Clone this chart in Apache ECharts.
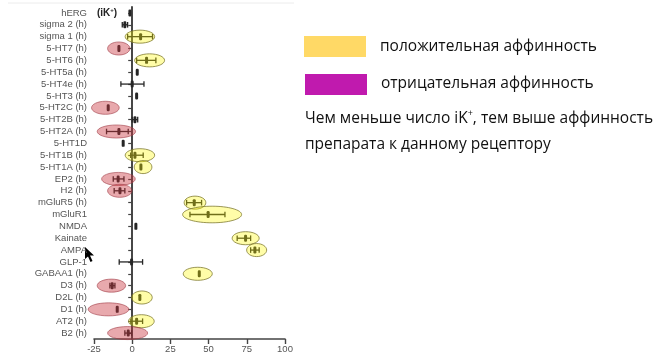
<!DOCTYPE html>
<html>
<head>
<meta charset="utf-8">
<script src="https://cdn.jsdelivr.net/npm/echarts@6/dist/echarts.min.js"></script>
<style>html,body{margin:0;padding:0;background:#fff}#c{width:666px;height:363px}</style>
</head>
<body>
<div id="c"></div>
<script>
const categories = ['hERG','sigma 2 (h)','sigma 1 (h)','5-HT7 (h)','5-HT6 (h)','5-HT5a (h)','5-HT4e (h)','5-HT3 (h)','5-HT2C (h)','5-HT2B (h)','5-HT2A (h)','5-HT1D','5-HT1B (h)','5-HT1A (h)','EP2 (h)','H2 (h)','mGluR5 (h)','mGluR1','NMDA','Kainate','AMPA','GLP-1','GABAA1 (h)','D3 (h)','D2L (h)','D1 (h)','AT2 (h)','B2 (h)'];
const means   = [-1.5,-4.8, 5.5,-8.7, 9.4, 3.3, 0.0, 2.9,-15.7, 1.8,-8.7,-5.9, 1.8, 5.7,-9.2,-8.0,40.6,49.7, 2.4,74.2,80.3,-0.4,43.9,-13.1, 5.0,-9.8, 2.9,-2.6];
const errLow  = [-1.5,-6.5,-3.0,-8.7, 2.9, 3.3,-7.4, 2.9,-15.7, 0.0,-16.8,-5.9,-1.0, 5.7,-12.4,-11.8,35.6,37.8, 2.4,68.7,77.5,-8.5,43.9,-14.6, 5.0,-9.8,-0.9,-4.8];
const errHigh = [-1.5,-3.0,13.3,-8.7,15.5, 3.3, 7.7, 2.9,-15.7, 3.6,-2.6,-5.9, 7.2, 5.7,-5.4,-4.8,45.4,60.7, 2.4,77.5,83.1, 6.8,43.9,-11.3, 5.0,-9.8, 6.8,-0.4];
// ellipse highlight: extent on x axis and affinity type ('pos' / 'neg' / null)
const ellipseLow  = [null,null,-4.6,-16.1, 1.6,null,null,null,-26.6,null,-22.9,null,-4.6, 1.3,-20.0,-16.1,34.0,33.0,null,65.4,74.9,null,33.4,-22.9,-0.4,-28.8,-2.4,-16.1];
const ellipseHigh = [null,null,14.7, -1.5,21.2,null,null,null, -8.5,null,  2.2,null,14.7,12.9,  2.0, -0.2,48.2,71.6,null,83.1,88.0,null,52.4, -4.3,13.1, -2.2,14.4,10.1];
const ellipseType = [null,null,'pos','neg','pos',null,null,null,'neg',null,'neg',null,'pos','pos','neg','neg','pos','pos',null,'pos','pos',null,'pos','neg','pos','neg','pos','neg'];
const xTicks = [-25, 0, 25, 50, 75, 100];
const legendLabels = ['положительная аффинность', 'отрицательная аффинность'];
const noteLine1 = ['Чем меньше число iK', '+', ', тем выше аффинность'];
const noteLine2 = 'препарата к данному рецептору';

const errData = categories.map((c, i) => [i, means[i], errLow[i], errHigh[i]]);
const ellData = [];
categories.forEach((c, i) => {
  if (ellipseType[i]) ellData.push([i, ellipseLow[i], ellipseHigh[i], ellipseType[i] === 'pos' ? 1 : 0]);
});

const GRID_LEFT = 94, GRID_W = 191;
const xMin = xTicks[0], xMax = xTicks[xTicks.length - 1];
const zeroOffset = -(0 - xMin) / (xMax - xMin) * GRID_W;

const chart = echarts.init(document.getElementById('c'), null, {renderer: 'canvas'});
const dark = '#262626';
chart.setOption({
  backgroundColor: '#fff',
  animation: false,
  grid: {left: GRID_LEFT, width: GRID_W, top: 7, height: 332},
  xAxis: {
    type: 'value', min: xMin, max: xMax, interval: 25,
    splitLine: {show: false},
    axisLine: {show: true, onZero: false, lineStyle: {color: '#444', width: 1.6}},
    axisTick: {show: true, length: 5, lineStyle: {color: '#444', width: 1.4}},
    axisLabel: {color: '#555', fontFamily: 'Liberation Sans', fontSize: 9.5, margin: 5}
  },
  yAxis: [{
    type: 'category', data: categories, inverse: true, position: 'left',
    axisLine: {show: false, onZero: false}, axisTick: {show: false},
    axisLabel: {color: '#555', fontFamily: 'Liberation Sans', fontSize: 9.5, margin: 7, interval: 0}
  }, {
    type: 'category', data: categories, inverse: true, position: 'left', offset: zeroOffset,
    axisLine: {show: true, onZero: false, lineStyle: {color: '#333', width: 1.8}},
    axisTick: {show: true, inside: false, alignWithLabel: true, interval: 0, length: 4, lineStyle: {color: '#444', width: 1.2}},
    axisLabel: {show: false}
  }],
  series: [{
    type: 'custom', yAxisIndex: 0, data: errData, z: 3,
    encode: {x: [1, 2, 3], y: 0},
    renderItem: function (params, api) {
      const idx = api.value(0);
      const pm = api.coord([api.value(1), idx]);
      const pl = api.coord([api.value(2), idx]);
      const ph = api.coord([api.value(3), idx]);
      const ch = [];
      const st = {stroke: dark, lineWidth: 1.3};
      if (ph[0] - pl[0] > 1) {
        ch.push({type: 'line', shape: {x1: pl[0], y1: pm[1], x2: ph[0], y2: pm[1]}, style: st});
        ch.push({type: 'line', shape: {x1: pl[0], y1: pm[1] - 2.8, x2: pl[0], y2: pm[1] + 2.8}, style: st});
        ch.push({type: 'line', shape: {x1: ph[0], y1: pm[1] - 2.8, x2: ph[0], y2: pm[1] + 2.8}, style: st});
      }
      ch.push({type: 'rect', shape: {x: pm[0] - 1.5, y: pm[1] - 3.5, width: 3, height: 7, r: 1.2}, style: {fill: dark}});
      return {type: 'group', children: ch};
    }
  }, {
    type: 'custom', yAxisIndex: 0, data: ellData, z: 4, clip: false,
    encode: {x: [1, 2], y: 0},
    renderItem: function (params, api) {
      const idx = api.value(0);
      const p1 = api.coord([api.value(1), idx]);
      const p2 = api.coord([api.value(2), idx]);
      const band = api.size([0, 1])[1];
      const pos = api.value(3) === 1;
      const big = categories[idx] === 'mGluR1' ? 1.4 : 1.1;
      return {
        type: 'ellipse',
        shape: {cx: (p1[0] + p2[0]) / 2, cy: p1[1], rx: (p2[0] - p1[0]) / 2, ry: band * big / 2},
        style: pos
          ? {fill: 'rgba(255,250,0,0.34)', stroke: 'rgba(120,115,40,0.75)', lineWidth: 1}
          : {fill: 'rgba(200,50,60,0.42)', stroke: 'rgba(160,60,70,0.6)', lineWidth: 1}
      };
    }
  }],
  graphic: [
    {type: 'line', shape: {x1: 8, y1: 3, x2: 294, y2: 3}, style: {stroke: '#ececec', lineWidth: 1}},
    {type: 'text', x: 97, y: 13, style: {
      text: '{a|(iK}{s|+}{a|)}', verticalAlign: 'middle',
      rich: {a: {fontFamily: 'Liberation Sans', fontWeight: 'bold', fontSize: 10, fill: '#222', lineHeight: 12},
             s: {fontFamily: 'Liberation Sans', fontWeight: 'bold', fontSize: 6, fill: '#222', verticalAlign: 'top', lineHeight: 12}}
    }},
    {type: 'polygon', shape: {points: [[85, 247], [85, 259], [88, 256.5], [90.5, 262], [92.5, 261], [90, 255.5], [94, 255.5]]}, style: {fill: '#000'}},
    {type: 'rect', shape: {x: 304, y: 36, width: 62, height: 21}, style: {fill: '#FFD966'}},
    {type: 'rect', shape: {x: 305, y: 74, width: 62, height: 21}, style: {fill: '#C01AAE'}},
    {type: 'text', x: 380, y: 47, style: {text: legendLabels[0], fontFamily: 'Open Sans', fontSize: 15.5, fill: '#111', verticalAlign: 'middle'}},
    {type: 'text', x: 381, y: 84, style: {text: legendLabels[1], fontFamily: 'Open Sans', fontSize: 15.5, fill: '#111', verticalAlign: 'middle'}},
    {type: 'text', x: 305, y: 119, style: {
      text: '{a|' + noteLine1[0] + '}{s|' + noteLine1[1] + '}{a|' + noteLine1[2] + '}', verticalAlign: 'middle',
      rich: {a: {fontFamily: 'Open Sans', fontSize: 15.5, fill: '#111', lineHeight: 20},
             s: {fontFamily: 'Open Sans', fontSize: 9, fill: '#111', verticalAlign: 'top', lineHeight: 20}}
    }},
    {type: 'text', x: 305, y: 145, style: {text: noteLine2, fontFamily: 'Open Sans', fontSize: 15.5, fill: '#111', verticalAlign: 'middle'}}
  ]
});
</script>
</body>
</html>
